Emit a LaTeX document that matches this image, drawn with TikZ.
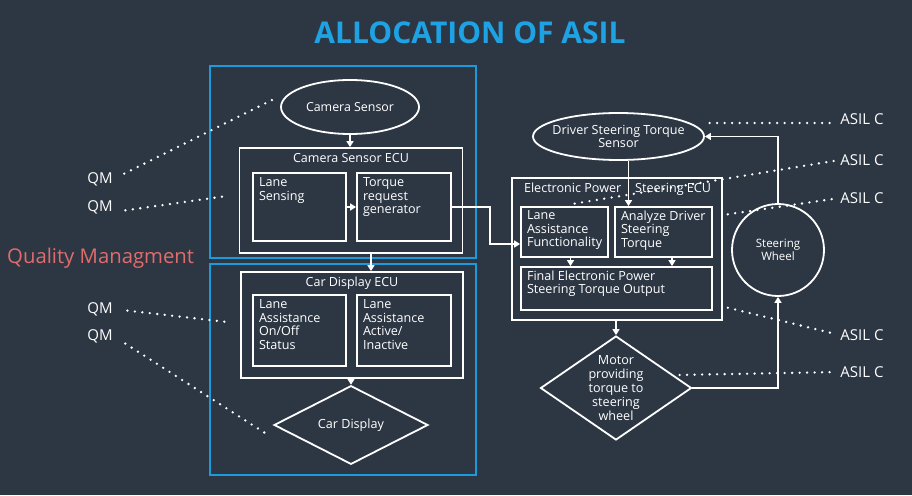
\documentclass[tikz,border=0pt]{standalone}
\usepackage{fontspec}
\setmainfont{Open Sans}
\usetikzlibrary{shapes.geometric,arrows.meta}
\definecolor{slate}{RGB}{45,55,68}
\definecolor{asilblue}{RGB}{27,155,220}
\definecolor{titleblue}{RGB}{30,162,228}
\definecolor{qmred}{RGB}{224,108,108}
\begin{document}
\begin{tikzpicture}[x=1pt,y=-1pt,white,line width=1.8pt,font=\fontsize{12.6}{13.4}\selectfont,
box/.style={draw,rectangle,inner sep=0pt},
zone/.style={draw=asilblue,rectangle,line width=2.8pt,inner sep=0pt},
txt/.style={anchor=north west,align=left,inner xsep=6pt,inner ysep=5pt},
head/.style={anchor=north,inner sep=5pt,font=\fontsize{12.5}{14}\selectfont},
tag/.style={inner sep=0pt,font=\fontsize{15}{17}\selectfont},
arr/.style={-{Triangle[length=6pt,width=7pt]}},
dots/.style={line width=2.6pt,line cap=round,dash pattern=on 0pt off 7.5pt}]
\fill[slate] (0,0) rectangle (912,495);
\useasboundingbox (0,0) rectangle (912,495);
\begin{scope}
\node[font=\fontsize{30}{34}\selectfont\bfseries,text=titleblue] (title) at (470,33) {ALLOCATION OF ASIL};
\node[anchor=west,text=qmred,font=\fontsize{20.3}{23}\selectfont] (qmhead) at (3,258) {Quality Managment};
\node[zone,minimum width=266pt,minimum height=192pt] (camzone) at (343,162) {};
\node[zone,minimum width=266pt,minimum height=211pt] (dispzone) at (343,369.5) {};
\node[ellipse,draw,minimum width=138pt,minimum height=54pt,font=\fontsize{12.4}{14}\selectfont] (cam) at (350,107) {Camera Sensor};
\node[box,minimum width=223pt,minimum height=105pt,label={[head]north:Camera Sensor ECU}] (camecu) at (351,200.5) {};
\node[box,minimum width=93pt,minimum height=68pt,label={[txt]north west:Lane\\Sensing}] (lanesens) at (299.5,207) {};
\node[box,minimum width=94pt,minimum height=68pt,label={[txt]north west:Torque\\request\\generator}] (torque) at (404,207) {};
\node[box,minimum width=222pt,minimum height=106pt,label={[head]north:Car Display ECU}] (dispecu) at (352,325) {};
\node[box,minimum width=93pt,minimum height=71pt,label={[txt]north west:Lane\\Assistance\\On/Off\\Status}] (onoff) at (299.5,330.5) {};
\node[box,minimum width=94pt,minimum height=71pt,label={[txt]north west:Lane\\Assistance\\Active/\\Inactive}] (active) at (404,330.5) {};
\node[diamond,draw,minimum width=154pt,minimum height=68pt,inner sep=0pt] (cardisp) at (351,425) {Car Display};
\node[ellipse,draw,minimum width=171pt,minimum height=47pt] (dsts) at (618.5,136.5) {};
\node[align=center] (dststxt) at (dsts) {Driver Steering Torque\\Sensor};
\node[box,minimum width=210pt,minimum height=142pt,label={[txt,inner xsep=12pt]north west:Electronic Power\hspace{1.1em}Steering ECU}] (epsecu) at (617,249) {};
\node[box,minimum width=87pt,minimum height=50pt,label={[txt,inner ysep=4pt]north west:Lane\\Assistance\\Functionality}] (laf) at (564.5,232) {};
\node[box,minimum width=97pt,minimum height=50pt,label={[txt,inner ysep=4pt]north west:Analyze Driver\\Steering\\Torque}] (adst) at (663.5,232) {};
\node[box,minimum width=191pt,minimum height=43pt,label={[txt,inner ysep=4pt]north west:Final Electronic Power\\Steering Torque Output}] (final) at (616.5,288.5) {};
\node[diamond,draw,minimum width=151pt,minimum height=104pt,inner sep=0pt] (motor) at (616,388) {};
\node[align=center,font=\fontsize{12.6}{14}\selectfont] (motortxt) at (motor) {Motor\\providing\\torque to\\steering\\wheel};
\node[circle,draw,minimum size=92pt,align=center,font=\fontsize{11.5}{13.5}\selectfont] (wheel) at (778,250) {Steering\\Wheel};
\end{scope}
\begin{scope}[every node/.style={tag}]
\node (qm1) at (100,179) {QM};
\node (qm2) at (100,207) {QM};
\node (qm3) at (100,309) {QM};
\node (qm4) at (100,336) {QM};
\node (asil1) at (862,119) {ASIL C};
\node (asil2) at (862,160) {ASIL C};
\node (asil3) at (862,198) {ASIL C};
\node (asil4) at (862,335) {ASIL C};
\node (asil5) at (862,372) {ASIL C};
\end{scope}
\begin{scope}[arr]
\draw (cam) -- (cam |- camecu.north);
\draw (lanesens) -- (torque);
\draw (torque.east) -- ++(38,0) |- ([yshift=-12pt]laf.west);
\draw ([xshift=20pt]camecu.south) -- ([xshift=20pt]camecu.south |- dispecu.north);
\draw (dispecu.south -| cardisp.north) -- (cardisp.north);
\draw ([xshift=10pt]dsts.south) -- ([xshift=10pt]dsts.south |- adst.north);
\draw ([xshift=6pt]laf.south) -- ([xshift=6pt]laf.south |- final.north);
\draw ([xshift=8.5pt]adst.south) -- ([xshift=8.5pt]adst.south |- final.north);
\draw (epsecu.south -| motor.north) -- (motor.north);
\draw (motor.east) -| (wheel.south);
\draw (wheel.north) |- (dsts.east);
\end{scope}
\begin{scope}[dots]
\coordinate (q1) at (272,100);
\coordinate (q2) at (227,196);
\coordinate (q3) at (227,322);
\coordinate (q4) at (265,433);
\coordinate (a1) at (705,123);
\coordinate (a2) at (572,204);
\coordinate (a3) at (723,215);
\coordinate (a4) at (725,307);
\coordinate (a5) at (677,375);
\draw[shorten <=12pt] (qm1.east) -- (q1);
\draw[shorten <=12pt] ([yshift=-5pt]qm2.east) -- (q2);
\draw[shorten <=14pt] (qm3.east) -- (q3);
\draw[shorten <=14pt] (qm4.east) -- (q4);
\draw[shorten <=10pt] ([yshift=-4pt]asil1.west) -- (a1);
\draw[shorten <=6pt] (asil2.west) -- (a2);
\draw[shorten <=8pt] (asil3.west) -- (a3);
\draw[shorten <=10pt] (asil4.west) -- (a4);
\draw[shorten <=10pt] (asil5.west) -- (a5);
\end{scope}
\end{tikzpicture}
\end{document}
